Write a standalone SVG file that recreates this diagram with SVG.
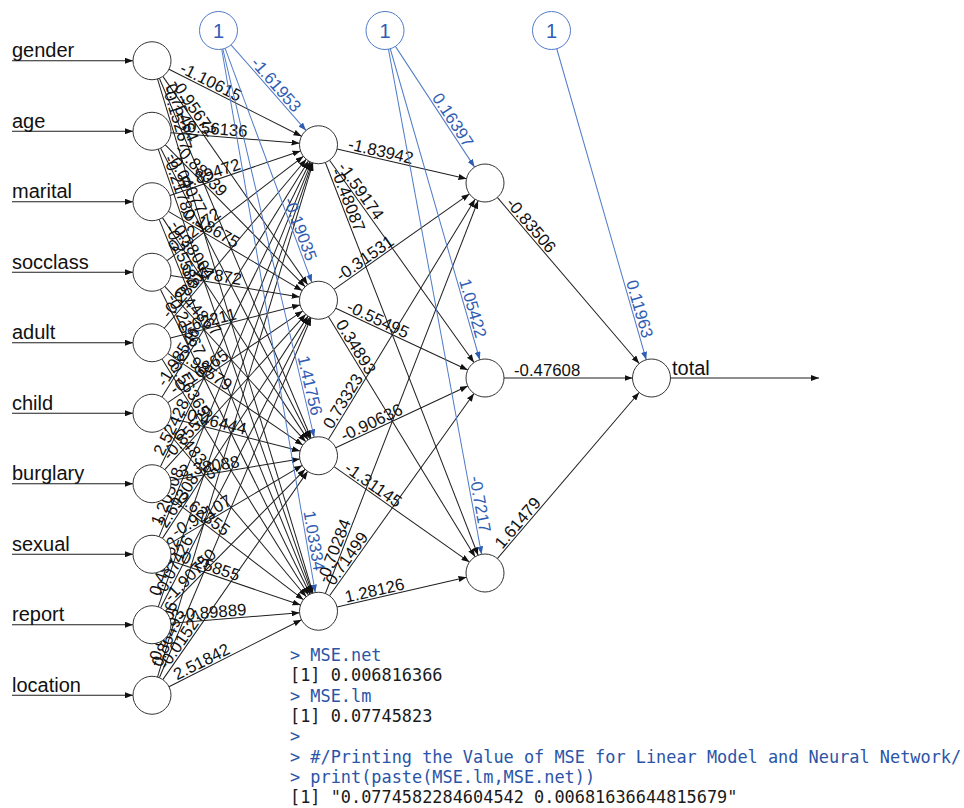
<svg xmlns="http://www.w3.org/2000/svg" width="964" height="808" viewBox="0 0 964 808">
<defs>
<marker id="a" viewBox="0 0 8 6" refX="8" refY="3" markerWidth="8" markerHeight="6" markerUnits="userSpaceOnUse" orient="auto"><path d="M0,0 L8,3 L0,6 z" fill="#111"/></marker>
<marker id="ab" viewBox="0 0 8 6" refX="8" refY="3" markerWidth="8" markerHeight="6" markerUnits="userSpaceOnUse" orient="auto"><path d="M0,0 L8,3 L0,6 z" fill="#2f5db3"/></marker>
</defs>
<style>
.e line{stroke:#1e1e1e;stroke-width:1;marker-end:url(#a)}
.e text{font-family:'Liberation Sans',Arial,sans-serif;font-size:16.8px;fill:#111}
.i line{stroke:#4f7bc8;marker-end:url(#ab)}
.i text{fill:#2f5db3;text-anchor:end}
.n circle{fill:#fff;stroke:#333;stroke-width:1}
.n text{font-family:'Liberation Sans',Arial,sans-serif;font-size:20px;fill:#111}
.b circle{fill:#fff;stroke:#4f7bc8;stroke-width:1}
.b text{font-family:'Liberation Sans',Arial,sans-serif;font-size:20px;fill:#2f5db3;text-anchor:middle}
.code{font-family:'DejaVu Sans Mono','Liberation Mono',monospace;font-size:16.9px}
.cmd{fill:#2b54a6}
.out{fill:#1a1a1a}
</style>
<rect width="964" height="808" fill="#fff"/>
<g id="connectors">
<g class="e">
<line x1="12" y1="60.75" x2="133" y2="60.75"/>
<line x1="12" y1="131.25" x2="133" y2="131.25"/>
<line x1="12" y1="201.75" x2="133" y2="201.75"/>
<line x1="12" y1="272.25" x2="133" y2="272.25"/>
<line x1="12" y1="342.75" x2="133" y2="342.75"/>
<line x1="12" y1="413.25" x2="133" y2="413.25"/>
<line x1="12" y1="483.75" x2="133" y2="483.75"/>
<line x1="12" y1="554.25" x2="133" y2="554.25"/>
<line x1="12" y1="624.75" x2="133" y2="624.75"/>
<line x1="12" y1="695.25" x2="133" y2="695.25"/>
<line x1="670.5" y1="378" x2="819" y2="378"/>
</g>
<g class="e">
<g transform="translate(152,60.75) rotate(26.771)"><line x1="19" x2="167.49"/><text x="29" y="-2">-1.10615</text></g>
<g transform="translate(152,60.75) rotate(55.193)"><line x1="19" x2="272.69"/><text x="29" y="-2">-0.95672</text></g>
<g transform="translate(152,60.75) rotate(67.146)"><line x1="19" x2="409.66"/><text x="29" y="-2">0.75464</text></g>
<g transform="translate(152,60.75) rotate(73.173)"><line x1="19" x2="556.13"/><text x="29" y="-2">-0.15267</text></g>
<g transform="translate(152,131.25) rotate(4.635)"><line x1="19" x2="148.05"/><text x="29" y="-2">-0.56136</text></g>
<g transform="translate(152,131.25) rotate(45.427)"><line x1="19" x2="218.24"/><text x="29" y="-2">-0.88039</text></g>
<g transform="translate(152,131.25) rotate(62.838)"><line x1="19" x2="345.72"/><text x="29" y="-2">-0.04077</text></g>
<g transform="translate(152,131.25) rotate(70.870)"><line x1="19" x2="489.06"/><text x="29" y="-2">-0.21780</text></g>
<g transform="translate(152,201.75) rotate(-18.898)"><line x1="19" x2="156.99"/><text x="29" y="-2">-0.89472</text></g>
<g transform="translate(152,201.75) rotate(30.610)"><line x1="19" x2="174.45"/><text x="29" y="-2">-0.18675</text></g>
<g transform="translate(152,201.75) rotate(56.755)"><line x1="19" x2="284.71"/><text x="29" y="-2">-0.38004</text></g>
<g transform="translate(152,201.75) rotate(67.873)"><line x1="19" x2="423.06"/><text x="29" y="-2">-0.25588</text></g>
<g transform="translate(152,272.25) rotate(-37.444)"><line x1="19" x2="190.71"/><text x="29" y="-2">0.52172</text></g>
<g transform="translate(152,272.25) rotate(9.546)"><line x1="19" x2="149.84"/><text x="29" y="-2">0.47872</text></g>
<g transform="translate(152,272.25) rotate(47.781)"><line x1="19" x2="228.78"/><text x="29" y="-2">0.44867</text></g>
<g transform="translate(152,272.25) rotate(63.842)"><line x1="19" x2="358.68"/><text x="29" y="-2">-0.21567</text></g>
<g transform="translate(152,342.75) rotate(-49.940)"><line x1="19" x2="239.70"/><text x="29" y="-2">-0.28517</text></g>
<g transform="translate(152,342.75) rotate(-14.319)"><line x1="19" x2="152.84"/><text x="29" y="-2">0.62211</text></g>
<g transform="translate(152,342.75) rotate(34.164)"><line x1="19" x2="182.22"/><text x="29" y="-2">0.98579</text></g>
<g transform="translate(152,342.75) rotate(58.198)"><line x1="19" x2="296.93"/><text x="29" y="-2">0.56365</text></g>
<g transform="translate(152,413.25) rotate(-58.198)"><line x1="19" x2="296.93"/><text x="29" y="-2">-1.98546</text></g>
<g transform="translate(152,413.25) rotate(-34.164)"><line x1="19" x2="182.22"/><text x="29" y="-2">-0.16865</text></g>
<g transform="translate(152,413.25) rotate(14.319)"><line x1="19" x2="152.84"/><text x="29" y="-2">-0.46444</text></g>
<g transform="translate(152,413.25) rotate(49.940)"><line x1="19" x2="239.70"/><text x="29" y="-2">0.48315</text></g>
<g transform="translate(152,483.75) rotate(-63.842)"><line x1="19" x2="358.68"/><text x="29" y="-2">2.52428</text></g>
<g transform="translate(152,483.75) rotate(-47.781)"><line x1="19" x2="228.78"/><text x="29" y="-2">-0.85529</text></g>
<g transform="translate(152,483.75) rotate(-9.546)"><line x1="19" x2="149.84"/><text x="29" y="-2">3.38088</text></g>
<g transform="translate(152,483.75) rotate(37.444)"><line x1="19" x2="190.71"/><text x="29" y="-2">0.62355</text></g>
<g transform="translate(152,554.25) rotate(-67.873)"><line x1="19" x2="423.06"/><text x="29" y="-2">1.20508</text></g>
<g transform="translate(152,554.25) rotate(-56.755)"><line x1="19" x2="284.71"/><text x="29" y="-2">2.69308</text></g>
<g transform="translate(152,554.25) rotate(-30.610)"><line x1="19" x2="174.45"/><text x="29" y="-2">-0.92107</text></g>
<g transform="translate(152,554.25) rotate(18.898)"><line x1="19" x2="156.99"/><text x="29" y="-2">0.25855</text></g>
<g transform="translate(152,624.75) rotate(-70.870)"><line x1="19" x2="489.06"/><text x="29" y="-2">0.49062</text></g>
<g transform="translate(152,624.75) rotate(-62.838)"><line x1="19" x2="345.72"/><text x="29" y="-2">-0.07426</text></g>
<g transform="translate(152,624.75) rotate(-45.427)"><line x1="19" x2="218.24"/><text x="29" y="-2">-1.90750</text></g>
<g transform="translate(152,624.75) rotate(-4.635)"><line x1="19" x2="148.05"/><text x="29" y="-2">-0.89889</text></g>
<g transform="translate(152,695.25) rotate(-73.173)"><line x1="19" x2="556.13"/><text x="29" y="-2">-0.91006</text></g>
<g transform="translate(152,695.25) rotate(-67.146)"><line x1="19" x2="409.66"/><text x="29" y="-2">0.86493</text></g>
<g transform="translate(152,695.25) rotate(-55.193)"><line x1="19" x2="272.69"/><text x="29" y="-2">-0.01527</text></g>
<g transform="translate(152,695.25) rotate(-26.771)"><line x1="19" x2="167.49"/><text x="29" y="-2">2.51842</text></g>
</g>
<g class="e">
<g transform="translate(318.5,144.75) rotate(12.938)"><line x1="19" x2="151.84"/><text x="29" y="-2">-1.83942</text></g>
<g transform="translate(318.5,144.75) rotate(54.479)"><line x1="19" x2="267.58"/><text x="29" y="-2">-1.59174</text></g>
<g transform="translate(318.5,144.75) rotate(68.756)"><line x1="19" x2="440.48"/><text x="29" y="-2">-0.48087</text></g>
<g transform="translate(318.5,300.25) rotate(-35.153)"><line x1="19" x2="184.64"/><text x="29" y="-2">-0.31531</text></g>
<g transform="translate(318.5,300.25) rotate(25.031)"><line x1="19" x2="164.76"/><text x="29" y="-2">-0.55495</text></g>
<g transform="translate(318.5,300.25) rotate(58.598)"><line x1="19" x2="300.55"/><text x="29" y="-2">0.34893</text></g>
<g transform="translate(318.5,455.75) rotate(-58.598)"><line x1="19" x2="300.55"/><text x="29" y="-2">0.73323</text></g>
<g transform="translate(318.5,455.75) rotate(-25.031)"><line x1="19" x2="164.76"/><text x="29" y="-2">-0.90636</text></g>
<g transform="translate(318.5,455.75) rotate(35.153)"><line x1="19" x2="184.64"/><text x="29" y="-2">-1.31145</text></g>
<g transform="translate(318.5,611.25) rotate(-68.756)"><line x1="19" x2="440.48"/><text x="29" y="-2">-0.70284</text></g>
<g transform="translate(318.5,611.25) rotate(-54.479)"><line x1="19" x2="267.58"/><text x="29" y="-2">0.71499</text></g>
<g transform="translate(318.5,611.25) rotate(-12.938)"><line x1="19" x2="151.84"/><text x="29" y="-2">1.28126</text></g>
<g transform="translate(485,183) rotate(49.507)"><line x1="19" x2="237.41"/><text x="29" y="-2">-0.83506</text></g>
<g transform="translate(485,378)"><line x1="19" x2="147.5"/><text x="29" y="-2">-0.47608</text></g>
<g transform="translate(485,573) rotate(-49.507)"><line x1="19" x2="237.41"/><text x="29" y="-2">1.61479</text></g>
</g>
<g class="e i">
<g transform="translate(218.5,30.5) rotate(48.805)"><line x1="19" x2="132.83"/><text x="111.83" y="-2">-1.61953</text></g>
<g transform="translate(218.5,30.5) rotate(69.660)"><line x1="19" x2="268.69"/><text x="247.69" y="-2">-0.19035</text></g>
<g transform="translate(218.5,30.5) rotate(76.765)"><line x1="19" x2="417.85"/><text x="396.85" y="-2">1.41756</text></g>
<g transform="translate(218.5,30.5) rotate(80.230)"><line x1="19" x2="570.30"/><text x="549.30" y="-2">1.03334</text></g>
<g transform="translate(385,30.5) rotate(56.746)"><line x1="19" x2="163.36"/><text x="142.36" y="-2">0.16397</text></g>
<g transform="translate(385,30.5) rotate(73.946)"><line x1="19" x2="342.60"/><text x="321.60" y="-2">1.05422</text></g>
<g transform="translate(385,30.5) rotate(79.556)"><line x1="19" x2="532.64"/><text x="511.64" y="-2">-0.7217</text></g>
<g transform="translate(551.5,30.5) rotate(73.946)"><line x1="19" x2="342.60"/><text x="321.60" y="-2">0.11963</text></g>
</g>
</g>
<g id="n-gender" class="n"><circle cx="152" cy="60.75" r="19"/><text x="12" y="57">gender</text></g>
<g id="n-age" class="n"><circle cx="152" cy="131.25" r="19"/><text x="12" y="127.5">age</text></g>
<g id="n-marital" class="n"><circle cx="152" cy="201.75" r="19"/><text x="12" y="198">marital</text></g>
<g id="n-socclass" class="n"><circle cx="152" cy="272.25" r="19"/><text x="12" y="268.5">socclass</text></g>
<g id="n-adult" class="n"><circle cx="152" cy="342.75" r="19"/><text x="12" y="339">adult</text></g>
<g id="n-child" class="n"><circle cx="152" cy="413.25" r="19"/><text x="12" y="409.5">child</text></g>
<g id="n-burglary" class="n"><circle cx="152" cy="483.75" r="19"/><text x="12" y="480">burglary</text></g>
<g id="n-sexual" class="n"><circle cx="152" cy="554.25" r="19"/><text x="12" y="550.5">sexual</text></g>
<g id="n-report" class="n"><circle cx="152" cy="624.75" r="19"/><text x="12" y="621">report</text></g>
<g id="n-location" class="n"><circle cx="152" cy="695.25" r="19"/><text x="12" y="691.5">location</text></g>
<g id="h1-1" class="n"><circle cx="318.5" cy="144.75" r="19"/></g>
<g id="h1-2" class="n"><circle cx="318.5" cy="300.25" r="19"/></g>
<g id="h1-3" class="n"><circle cx="318.5" cy="455.75" r="19"/></g>
<g id="h1-4" class="n"><circle cx="318.5" cy="611.25" r="19"/></g>
<g id="h2-1" class="n"><circle cx="485" cy="183" r="19"/></g>
<g id="h2-2" class="n"><circle cx="485" cy="378" r="19"/></g>
<g id="h2-3" class="n"><circle cx="485" cy="573" r="19"/></g>
<g id="n-total" class="n"><circle cx="651.5" cy="378" r="19"/><text x="672" y="375">total</text></g>
<g id="bias-1" class="b"><circle cx="218.5" cy="30.5" r="19"/><text x="218.5" y="37.5">1</text></g>
<g id="bias-2" class="b"><circle cx="385" cy="30.5" r="19"/><text x="385" y="37.5">1</text></g>
<g id="bias-3" class="b"><circle cx="551.5" cy="30.5" r="19"/><text x="551.5" y="37.5">1</text></g>
<g id="console" class="code">
<text x="290" y="661" class="cmd">&gt; MSE.net</text>
<text x="290" y="681" class="out">[1] 0.006816366</text>
<text x="290" y="702" class="cmd">&gt; MSE.lm</text>
<text x="290" y="722" class="out">[1] 0.07745823</text>
<text x="290" y="742" class="cmd">&gt;</text>
<text x="290" y="763" class="cmd">&gt; #/Printing the Value of MSE for Linear Model and Neural Network/</text>
<text x="290" y="783" class="cmd">&gt; print(paste(MSE.lm,MSE.net))</text>
<text x="290" y="803" class="out">[1] "0.0774582284604542 0.00681636644815679"</text>
</g>
</svg>
